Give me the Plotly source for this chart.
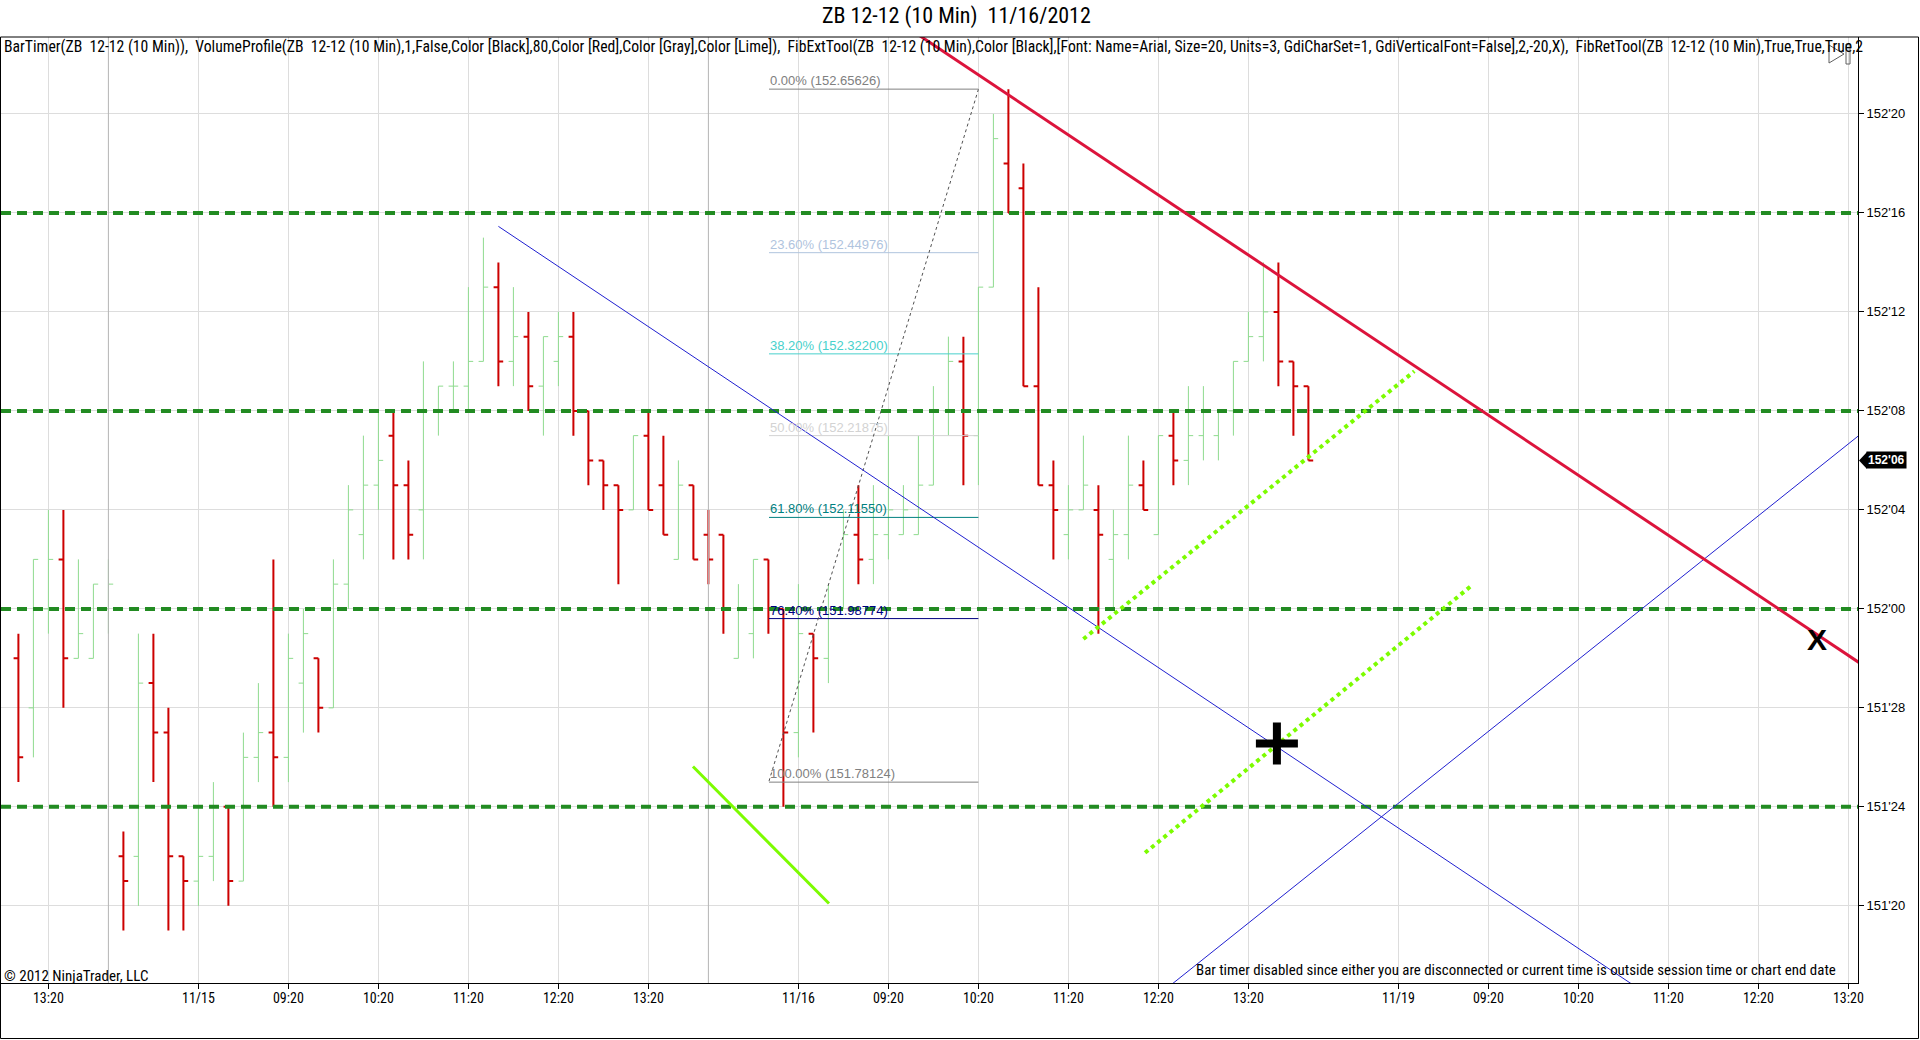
import plotly.graph_objects as go

# ---------------- data (prices written as handle'32nds) ----------------
bar_slot = list(range(-12, 75))  # 10-minute bar slots; 0 = 11/15 session start
bar_open = ["151'30","151'28","152'00","152'02","151'30","151'30","152'00","151'22","151'22","151'29","151'27","151'22",
            "151'21","151'22","151'24","151'21","151'26","151'27","151'26","151'29","151'30","151'28","152'01","152'03",
            "152'05","152'07","152'05","152'04","152'08","152'09","152'09","152'10","152'13","152'10","152'11","152'09",
            "152'10","152'11","152'08","152'06","152'05","152'04","152'07","152'05","152'02","152'05","152'03","152'03",
            "151'30","151'31","152'02","152'00","151'27","151'31","151'30","152'00","152'03","152'02","152'03","152'03",
            "152'03","152'05","152'08","152'10","152'07","152'13","152'18","152'17","152'09","152'05","152'03","152'04",
            "152'04","152'02","152'03","152'05","152'03","152'07","152'06","152'07","152'07","152'08","152'10","152'11",
            "152'12","152'10","152'09"]
bar_high = ["151'31","152'02","152'04","152'04","152'02","152'01","152'02","151'23","151'31","151'31","151'28","151'22",
            "151'24","151'25","151'24","151'27","151'29","152'02","151'31","152'00","151'30","152'02","152'05","152'07",
            "152'08","152'08","152'06","152'10","152'09","152'10","152'13","152'15","152'14","152'13","152'12","152'11",
            "152'12","152'12","152'08","152'06","152'05","152'07","152'08","152'07","152'06","152'05","152'04","152'03",
            "152'01","152'02","152'02","152'00","152'01","151'31","152'01","152'04","152'05","152'05","152'07","152'05",
            "152'07","152'09","152'11","152'11","152'13","152'20","152'21","152'18","152'13","152'06","152'05","152'07",
            "152'05","152'04","152'07","152'06","152'07","152'08","152'09","152'09","152'08","152'10","152'12","152'14",
            "152'14","152'10","152'09"]
bar_low = ["151'25","151'26","151'31","151'28","151'30","151'30","151'31","151'19","151'20","151'25","151'19","151'19",
           "151'20","151'21","151'20","151'21","151'25","151'24","151'25","151'27","151'27","151'28","152'00","152'02",
           "152'04","152'02","152'02","152'02","152'07","152'08","152'08","152'10","152'09","152'09","152'08","152'07",
           "152'09","152'07","152'05","152'04","152'01","152'04","152'04","152'03","152'02","152'02","152'01","151'31",
           "151'30","151'30","151'31","151'24","151'26","151'27","151'29","152'00","152'01","152'01","152'02","152'03",
           "152'03","152'05","152'07","152'05","152'05","152'13","152'16","152'09","152'05","152'02","152'02","152'04",
           "151'31","152'00","152'02","152'04","152'03","152'05","152'05","152'06","152'06","152'07","152'10","152'10",
           "152'09","152'07","152'06"]
bar_close = ["151'26","152'02","152'02","151'30","151'31","152'01","152'01","151'21","151'29","151'27","151'22","151'21",
             "151'22","151'24","151'21","151'26","151'27","151'26","151'30","151'31","151'28","152'01","152'04","152'05",
             "152'06","152'05","152'03","152'08","152'09","152'09","152'10","152'13","152'10","152'11","152'09","152'11",
             "152'11","152'08","152'06","152'05","152'04","152'07","152'04","152'03","152'05","152'02","152'02","152'00",
             "152'00","152'02","152'00","151'27","151'31","151'30","152'00","152'03","152'02","152'03","152'04","152'04",
             "152'05","152'08","152'10","152'07","152'13","152'19","152'16","152'09","152'05","152'04","152'04","152'05",
             "152'03","152'03","152'05","152'04","152'07","152'06","152'07","152'08","152'08","152'10","152'11","152'12",
             "152'10","152'09","152'06"]

x_tick_slots = [-10, 0, 6, 12, 18, 24, 30, 40, 46, 52, 58, 64, 70, 80, 86, 92, 98, 104, 110]
x_tick_text = ["13:20", "11/15", "09:20", "10:20", "11:20", "12:20", "13:20", "11/16", "09:20", "10:20",
               "11:20", "12:20", "13:20", "11/19", "09:20", "10:20", "11:20", "12:20", "13:20"]
y_tick_text = ["151'20", "151'24", "151'28", "152'00", "152'04", "152'08", "152'12", "152'16", "152'20"]
session_break_slots = [-6, 34]

level_text = ["152'16", "152'08", "152'00", "151'24"]          # green dashed levels

fib_pct = ["0.00%", "23.60%", "38.20%", "50.00%", "61.80%", "76.40%", "100.00%"]
fib_price = [152.65626, 152.44976, 152.32200, 152.21875, 152.11550, 151.98774, 151.78124]
fib_color = ["#808080", "#B0C4DE", "#48D1CC", "#D3D3D3", "#008080", "#000080", "#808080"]
fib_slots = [38.04, 52.0]
fib_anchor_x = [38.04, 52.0]
fib_anchor_y = [151.7825, 152.656]

red_trend_x = [40.0, 115.0]
red_trend_y = [152.826, 151.878]
blue_down_x = [20.0, 100.0]
blue_down_y = [152.483, 151.470]
blue_up_x = [60.0, 115.0]
blue_up_y = [151.452, 152.284]
lime_dot1_x = [59.0, 81.06]
lime_dot1_y = [151.962, 152.300]
lime_dot2_x = [63.11, 84.98]
lime_dot2_y = [151.692, 152.031]
lime_solid_x = [32.97, 42.04]
lime_solid_y = [151.801, 151.628]
plus_mark = (71.9, 151.830)
x_mark = (107.9, 151.957)
last_price = "152'06"

header_text = ("BarTimer(ZB  12-12 (10 Min)),  VolumeProfile(ZB  12-12 (10 Min),1,False,Color [Black],80,Color [Red],"
               "Color [Gray],Color [Lime]),  FibExtTool(ZB  12-12 (10 Min),Color [Black],[Font: Name=Arial, Size=20, "
               "Units=3, GdiCharSet=1, GdiVerticalFont=False],2,-20,X),  FibRetTool(ZB  12-12 (10 Min),True,True,True,2")
title_text = "ZB 12-12 (10 Min)  11/16/2012"


def p32(s):
    a, b = s.split("'")
    return int(a) + int(b) / 32.0


NARROW = "Liberation Sans Narrow, Arial Narrow, Roboto Condensed, Liberation Sans, Arial"
REG = "Liberation Sans, Arial"

# pixel geometry of plot area
PL, PR, PT, PB = 1, 1858, 37, 983
W, H = 1920, 1040
x_range = [-13.16, 110.64]
y_range = [151.5276, 152.7221]


def paper_x(px):
    return (px - PL) / (PR - PL)


def paper_y(py):
    return (PB - py) / (PB - PT)


fig = go.Figure()

# OHLC bars
fig.add_trace(go.Ohlc(
    x=bar_slot,
    open=[p32(v) for v in bar_open], high=[p32(v) for v in bar_high],
    low=[p32(v) for v in bar_low], close=[p32(v) for v in bar_close],
    increasing=dict(line=dict(color="#8EDB8E", width=1)),
    decreasing=dict(line=dict(color="#CC0000", width=2)),
    tickwidth=0.32, hoverinfo="skip", showlegend=False,
))

# session separators
for s in session_break_slots:
    fig.add_trace(go.Scatter(x=[s, s], y=y_range, mode="lines",
                             line=dict(color="#B4B4B4", width=1), hoverinfo="skip", showlegend=False))

# fib retracement lines
for pct, pr, col in zip(fib_pct, fib_price, fib_color):
    fig.add_trace(go.Scatter(x=fib_slots, y=[pr, pr], mode="lines",
                             line=dict(color=col, width=1), hoverinfo="skip", showlegend=False))
fig.add_trace(go.Scatter(x=fib_anchor_x, y=fib_anchor_y, mode="lines",
                         line=dict(color="#505050", width=1, dash="dot"), hoverinfo="skip", showlegend=False))

# green dashed horizontal levels
for lv in level_text:
    fig.add_trace(go.Scatter(x=x_range, y=[p32(lv), p32(lv)], mode="lines",
                             line=dict(color="#228B22", width=4, dash="10px,6px"),
                             hoverinfo="skip", showlegend=False))

# blue trend lines
fig.add_trace(go.Scatter(x=blue_down_x, y=blue_down_y, mode="lines",
                         line=dict(color="#2020D0", width=1), hoverinfo="skip", showlegend=False))
fig.add_trace(go.Scatter(x=blue_up_x, y=blue_up_y, mode="lines",
                         line=dict(color="#2020D0", width=1), hoverinfo="skip", showlegend=False))
# lime lines
fig.add_trace(go.Scatter(x=lime_solid_x, y=lime_solid_y, mode="lines",
                         line=dict(color="#7CFC00", width=3), hoverinfo="skip", showlegend=False))
for lx, ly in [(lime_dot1_x, lime_dot1_y), (lime_dot2_x, lime_dot2_y)]:
    fig.add_trace(go.Scatter(x=lx, y=ly, mode="lines",
                             line=dict(color="#7CFC00", width=4, dash="dot"), hoverinfo="skip", showlegend=False))
# red trend line
fig.add_trace(go.Scatter(x=red_trend_x, y=red_trend_y, mode="lines",
                         line=dict(color="#DC143C", width=3), hoverinfo="skip", showlegend=False))
# markers
fig.add_trace(go.Scatter(x=[plus_mark[0]], y=[plus_mark[1]], mode="markers",
                         marker=dict(symbol="cross-thin", size=30, line=dict(color="black", width=8)),
                         hoverinfo="skip", showlegend=False))
fig.add_trace(go.Scatter(x=[x_mark[0]], y=[x_mark[1]], mode="text", text=["<b>X</b>"],
                         textfont=dict(family="Liberation Sans, Arial", size=30, color="black"),
                         textposition="middle center", hoverinfo="skip", showlegend=False))

annotations = []
for pct, pr, col in zip(fib_pct, fib_price, fib_color):
    annotations.append(dict(x=fib_slots[0], y=pr, xref="x", yref="y", text=f"{pct} ({pr:.5f})",
                            showarrow=False, xanchor="left", yanchor="bottom", borderpad=0,
                            font=dict(family=REG, size=13, color=col)))
annotations += [
    dict(x=paper_x(956), y=paper_y(16), xref="paper", yref="paper", text=title_text, showarrow=False,
         xanchor="center", yanchor="middle", font=dict(family=NARROW, size=22, color="black")),
    dict(x=paper_x(2), y=paper_y(46.5), xref="paper", yref="paper", text=header_text, showarrow=False,
         xanchor="left", yanchor="middle", font=dict(family=NARROW, size=15.7, color="black")),
    dict(x=paper_x(2), y=paper_y(976), xref="paper", yref="paper", text="\u00a9 2012 NinjaTrader, LLC",
         showarrow=False, xanchor="left", yanchor="middle", font=dict(family=NARROW, size=15, color="black")),
    dict(x=paper_x(1838), y=paper_y(970), xref="paper", yref="paper",
         text="Bar timer disabled since either you are disconnected or current time is outside session time or chart end date",
         showarrow=False, xanchor="right", yanchor="middle", font=dict(family=NARROW, size=14.9, color="black")),
    dict(x=paper_x(1866), y=p32(last_price), xref="paper", yref="y", text="<b>" + last_price + "</b>",
         showarrow=False, xanchor="left", yanchor="middle", bgcolor="black", borderpad=1,
         font=dict(family=REG, size=12, color="white")),
]

half = 8.5 / 792 * 1.0  # about 8 px in price units
lp = p32(last_price)
shapes = [
    # outer frame
    dict(type="rect", xref="paper", yref="paper", x0=paper_x(0.5), x1=paper_x(1918.5),
         y0=paper_y(1038.5), y1=paper_y(37), line=dict(color="black", width=1)),
    # price marker pointer
    dict(type="path", xref="paper", yref="y",
         path=f"M {paper_x(1859)},{lp} L {paper_x(1867)},{lp + half} L {paper_x(1867)},{lp - half} Z",
         fillcolor="black", line=dict(color="black", width=0)),
    # small end-of-chart icon
    dict(type="path", xref="paper", yref="paper",
         path=f"M {paper_x(1829)},{paper_y(45)} L {paper_x(1829)},{paper_y(63)} L {paper_x(1844)},{paper_y(54)} Z",
         line=dict(color="#606060", width=1)),
    dict(type="rect", xref="paper", yref="paper", x0=paper_x(1846), x1=paper_x(1850),
         y0=paper_y(64), y1=paper_y(44), line=dict(color="#606060", width=1)),
]

fig.update_layout(
    width=W, height=H,
    margin=dict(l=PL, r=W - PR, t=PT, b=H - PB, pad=0),
    paper_bgcolor="white", plot_bgcolor="white",
    showlegend=False,
    annotations=annotations, shapes=shapes,
    xaxis=dict(type="linear", range=x_range, tickmode="array", tickvals=x_tick_slots, ticktext=x_tick_text,
               showgrid=True, gridcolor="#DDDDDD", gridwidth=1, zeroline=False,
               ticks="outside", ticklen=5, tickcolor="black", showline=True, linecolor="black", linewidth=1,
               tickfont=dict(family=NARROW, size=14, color="black"), rangeslider=dict(visible=False),
               ticklabelstandoff=-3, fixedrange=True),
    yaxis=dict(range=y_range, side="right", tickmode="array", tickvals=[p32(t) for t in y_tick_text],
               ticktext=y_tick_text, showgrid=True, gridcolor="#DDDDDD", gridwidth=1, zeroline=False,
               ticks="outside", ticklen=5, tickcolor="black", showline=True, linecolor="black", linewidth=1,
               tickfont=dict(family=REG, size=13, color="black"), fixedrange=True),
)

fig.write_html("out.html", config={"displayModeBar": False},
               post_script="document.body.style.margin='0';document.body.style.overflow='hidden';")
